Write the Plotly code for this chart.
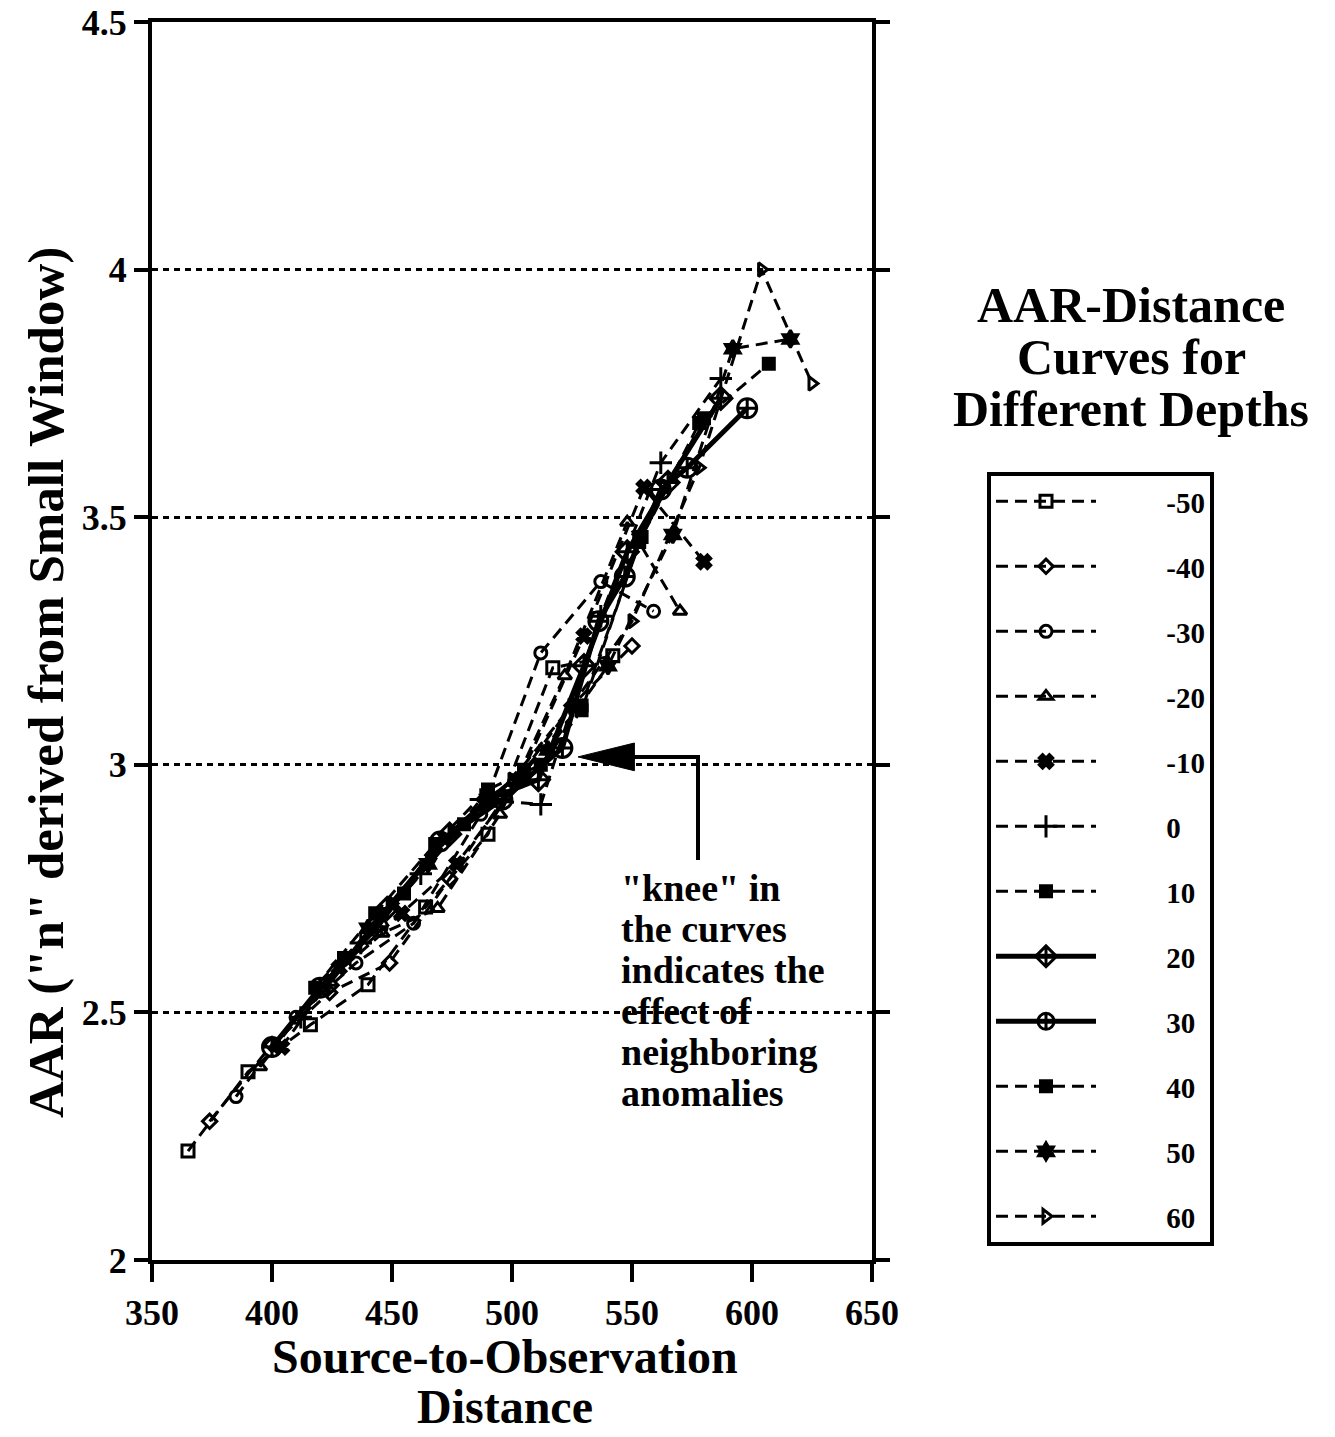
import plotly.graph_objects as go

# ---------------- data ----------------
depths = ["-50", "-40", "-30", "-20", "-10", "0", "10", "20", "30", "40", "50", "60"]

x_m50 = [365, 390, 416, 440, 464, 490, 517, 542]
y_m50 = [2.22, 2.38, 2.475, 2.556, 2.713, 2.86, 3.196, 3.22]

x_m40 = [374, 400, 424, 449, 474, 499, 525, 550]
y_m40 = [2.28, 2.435, 2.54, 2.60, 2.77, 2.95, 3.12, 3.24]

x_m30 = [385, 410, 435, 459, 487, 512, 537, 559]
y_m30 = [2.33, 2.49, 2.60, 2.68, 2.90, 3.226, 3.37, 3.31]

x_m20 = [395, 420, 446, 469, 495, 522, 548, 570]
y_m20 = [2.39, 2.55, 2.66, 2.71, 2.90, 3.18, 3.49, 3.31]

x_m10 = [404, 428, 454, 477, 503, 530, 555, 580]
y_m10 = [2.43, 2.59, 2.70, 2.80, 2.97, 3.26, 3.56, 3.41]

x_0 = [412, 437, 462, 487, 512, 537, 562, 587]
y_0 = [2.49, 2.64, 2.78, 2.93, 2.92, 3.30, 3.61, 3.78]

x_10 = [418, 443, 468, 490, 512, 529, 553, 578]
y_10 = [2.55, 2.70, 2.84, 2.95, 3.00, 3.11, 3.45, 3.69]

x_20 = [423, 448, 474, 490, 511, 530, 548, 565, 587]
y_20 = [2.555, 2.71, 2.86, 2.93, 2.97, 3.20, 3.43, 3.57, 3.74]

x_30 = [400, 420, 444, 470, 496, 521, 536, 547, 562, 573, 598]
y_30 = [2.43, 2.55, 2.673, 2.845, 2.93, 3.034, 3.29, 3.38, 3.556, 3.60, 3.72]

x_40 = [430, 455, 480, 505, 529, 554, 580, 607]
y_40 = [2.61, 2.74, 2.88, 2.99, 3.12, 3.46, 3.70, 3.81]

x_50 = [440, 465, 490, 515, 540, 567, 592, 616]
y_50 = [2.67, 2.80, 2.93, 3.03, 3.20, 3.465, 3.84, 3.86]

x_60 = [450, 475, 500, 525, 550, 578, 604, 625]
y_60 = [2.72, 2.86, 2.97, 3.12, 3.29, 3.60, 4.00, 3.77]

x_ticks = [350, 400, 450, 500, 550, 600, 650]
y_ticks = [2, 2.5, 3, 3.5, 4, 4.5]
y_tick_labels = ["2", "2.5", "3", "3.5", "4", "4.5"]

x_title_lines = ["Source-to-Observation", "Distance"]
y_title = 'AAR ("n" derived from Small Window)'
side_title_lines = ["AAR-Distance", "Curves for", "Different Depths"]
knee_lines = ['"knee" in', "the curves", "indicates the", "effect of",
              "neighboring", "anomalies"]

# arrow for the "knee" note (data coordinates)
arrow_x = [577.5, 577.5, 549.0]
arrow_y = [2.808, 3.016, 3.016]
arrow_tip = (527.5, 3.016)

# ---------------- layout geometry (pixels) ----------------
W, H = 1335, 1437
L, R, T, B = 152, 872, 22, 1260


def px_x(p):
    return (p - L) / (R - L)


def px_y(p):
    return (B - p) / (B - T)


# ---------------- styling ----------------
FONT = "Liberation Serif"
NB = "\u00a0"
series = [
    (x_m50, y_m50, "square-open", 12, "dash"),
    (x_m40, y_m40, "diamond-open", 11, "dash"),
    (x_m30, y_m30, "circle-open", 12, "dash"),
    (x_m20, y_m20, "triangle-up-open", 12, "dash"),
    (x_m10, y_m10, "x", 12, "dash"),
    (x_0, y_0, "cross-thin", 16, "dash"),
    (x_10, y_10, "square", 11, "dash"),
    (x_20, y_20, "diamond-cross-open", 17, "solid"),
    (x_30, y_30, "circle-cross-open", 19, "solid"),
    (x_40, y_40, "square", 11, "dash"),
    (x_50, y_50, "hexagram", 13, "dash"),
    (x_60, y_60, "triangle-right-open", 12, "dash"),
]

fig = go.Figure()
for i, (xs, ys, sym, size, style) in enumerate(series):
    solid = style == "solid"
    fig.add_trace(go.Scatter(
        x=xs, y=ys, mode="lines+markers",
        name=NB * 9 + depths[i],
        legendgroup=depths[i],
        line=dict(color="black", width=5 if solid else 3,
                  dash="solid" if solid else "12px,7px"),
        marker=dict(symbol=sym, size=size, color="black",
                    line=dict(color="black", width=3)),
        showlegend=True,
    ))

# arrow
fig.add_trace(go.Scatter(x=arrow_x, y=arrow_y, mode="lines",
                         line=dict(color="black", width=4), showlegend=False,
                         hoverinfo="skip"))
fig.add_shape(type="path",
              path=f"M {arrow_tip[0]},{arrow_tip[1]} L 551,{arrow_tip[1]+0.028} L 551,{arrow_tip[1]-0.028} Z",
              xref="x", yref="y", fillcolor="black", line=dict(color="black", width=1))

fig.update_layout(
    width=W, height=H,
    margin=dict(l=L, r=W - R, t=T, b=H - B, autoexpand=False),
    paper_bgcolor="white", plot_bgcolor="white",
    font=dict(family=FONT, color="black"),
    showlegend=True,
    legend=dict(
        x=px_x(987), y=px_y(472), xanchor="left", yanchor="top",
        bordercolor="black", borderwidth=4, bgcolor="white",
        font=dict(family=FONT, size=29, color="black", weight="bold"),
        itemwidth=100, tracegroupgap=24.3, itemsizing="trace",
    ),
)

fig.update_xaxes(
    range=[350, 650], tickvals=x_ticks, ticktext=[str(v) for v in x_ticks],
    showgrid=False, zeroline=False, automargin=False,
    showline=True, linecolor="black", linewidth=4, mirror=True,
    ticks="outside", ticklen=18, tickwidth=4, tickcolor="black",
    tickfont=dict(family=FONT, size=36, color="black", weight="bold"),
)
fig.update_yaxes(
    range=[2, 4.5], tickvals=y_ticks, ticktext=y_tick_labels,
    showgrid=True, gridcolor="black", gridwidth=2.5, griddash="6px,5px",
    zeroline=False, automargin=False,
    showline=True, linecolor="black", linewidth=4, mirror="ticks",
    ticks="outside", ticklen=14, tickwidth=4, tickcolor="black",
    tickfont=dict(family=FONT, size=36, color="black", weight="bold"),
)


def label(text, xp, yp, size, xanchor="center", angle=0):
    fig.add_annotation(
        text=text, textangle=angle, xref="paper", yref="paper",
        x=px_x(xp), y=px_y(yp), xanchor=xanchor, yanchor="middle",
        showarrow=False, align="left",
        font=dict(family=FONT, size=size, color="black", weight="bold"),
    )


label(y_title, 46, 683, 51, angle=-90)
for k, t in enumerate(x_title_lines):
    label(t, 505, 1356 + 50 * k, 48)
for k, t in enumerate(side_title_lines):
    label(t, 1131, 305 + 52 * k, 50)
for k, t in enumerate(knee_lines):
    label(t, 619, 888 + 41 * k, 38, xanchor="left")

fig.write_html("out.html")
